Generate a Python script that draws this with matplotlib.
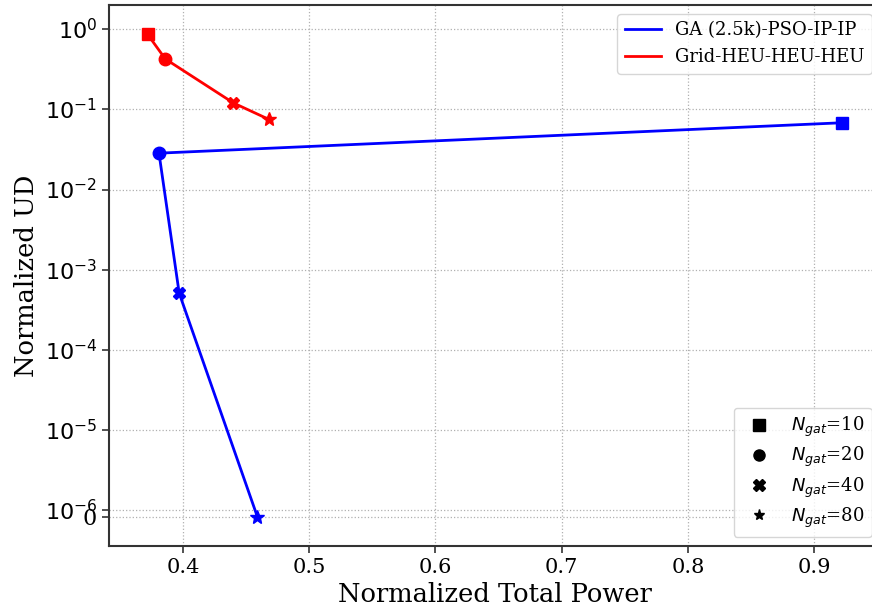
import matplotlib
matplotlib.use("Agg")
import matplotlib.pyplot as plt
from matplotlib.lines import Line2D

plt.rcParams['font.family'] = 'serif'

# Datos
ga_power = [0.922, 0.381, 0.397, 0.459]
ga_ud = [0.068, 0.0284, 5.1e-4, 0.0]
grid_power = [0.372, 0.386, 0.440, 0.468]
grid_ud = [0.86, 0.425, 0.12, 0.075]
markers = ['s', 'o', 'X', '*']
ngat = [10, 20, 40, 80]
yticks = [0, 1e-6, 1e-5, 1e-4, 1e-3, 1e-2, 1e-1, 1]
ylabels = ['0', '$10^{-6}$', '$10^{-5}$', '$10^{-4}$', '$10^{-3}$',
           '$10^{-2}$', '$10^{-1}$', '$10^{0}$']
xticks = [0.4, 0.5, 0.6, 0.7, 0.8, 0.9]

fig = plt.figure(figsize=(8.72, 6.12), dpi=100)
ax = fig.add_axes([109/872, 1-546/612, (881-109)/872, (546-5)/612])

# lineas
ax.plot(ga_power, ga_ud, color='blue', lw=2, label='GA (2.5k)-PSO-IP-IP')
ax.plot(grid_power, grid_ud, color='red', lw=2, label='Grid-HEU-HEU-HEU')
# marcadores
for i in range(len(markers)):
    ms = 9 if markers[i] != '*' else 10
    ax.plot(ga_power[i], ga_ud[i], marker=markers[i], color='blue', ms=ms, ls='none')
    ax.plot(grid_power[i], grid_ud[i], marker=markers[i], color='red', ms=ms, ls='none')

ax.set_yscale('symlog', linthresh=1e-6, linscale=0.075)
ax.set_xlim(0.3414, 0.953)
ax.set_ylim(-1.9e-6, 2.0)
ax.set_xticks(xticks)
ax.set_yticks(yticks)
ax.set_yticklabels(ylabels)
ax.minorticks_off()
ax.grid(True, ls=':', color='#b0b0b0', lw=0.9)
ax.tick_params(axis='x', labelsize=15)
ax.tick_params(axis='y', labelsize=16)
ax.tick_params(length=5, width=1.2, color='#333333')
for s in ax.spines.values():
    s.set_color('#333333')
    s.set_linewidth(1.5)
ax.set_xlabel('Normalized Total Power', fontsize=18.5)
ax.set_ylabel('Normalized UD', fontsize=18.5)

leg1 = ax.legend(loc='upper right', fontsize=13)
ax.add_artist(leg1)
handles = [Line2D([], [], marker=m, color='black', ls='none', ms=8) for m in markers]
labels = ['$N_{gat}$=%d' % n for n in ngat]
ax.legend(handles, labels, loc='lower right', fontsize=13, labelspacing=0.33)

fig.savefig('out.png', dpi=100)
